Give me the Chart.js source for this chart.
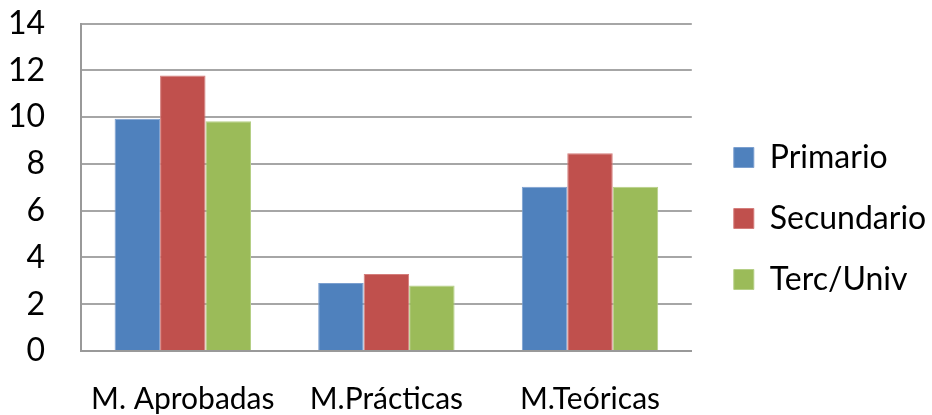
<!DOCTYPE html>
<html>
<head>
<meta charset="utf-8">
<script src="https://cdn.jsdelivr.net/npm/chart.js@4"></script>
<style>
  html, body { margin: 0; padding: 0; background: #fff; }
</style>
</head>
<body>
<canvas id="myChart" width="932" height="415"></canvas>
<script>
const categories = ['M. Aprobadas', 'M.Prácticas', 'M.Teóricas']
const primario = [9.93, 2.91, 7.02]
const secundario = [11.78, 3.29, 8.45]
const tercUniv = [9.82, 2.80, 7.02]
const yTicks = [0, 2, 4, 6, 8, 10, 12, 14]

const fontFam = "Lato, 'Open Sans', sans-serif"

// move the legend a bit, chart.js centres it on the full height
const legendNudge = {
  id: 'legendNudge',
  afterLayout(chart) {
    const lg = chart.legend
    lg.left += 13; lg.right += 13
    lg.top += 11; lg.bottom += 11
  }
}

const ctx = document.getElementById('myChart')

const myChart = new Chart(ctx, {
  type: 'bar',
  data: {
    labels: categories,
    datasets: [
      { label: 'Primario', data: primario, backgroundColor: '#4f81bd', borderColor: '#7b9fcf', borderWidth: 1 },
      { label: 'Secundario', data: secundario, backgroundColor: '#c0504d', borderColor: '#d47d7b', borderWidth: 1 },
      { label: 'Terc/Univ', data: tercUniv, backgroundColor: '#9bbb59', borderColor: '#b5cf86', borderWidth: 1 }
    ]
  },
  plugins: [legendNudge],
  options: {
    responsive: false,
    devicePixelRatio: 1,
    animation: false,
    layout: { padding: { top: 0, right: 9.6, bottom: 0, left: 0 } },
    datasets: { bar: { categoryPercentage: 0.67, barPercentage: 1.0 } },
    plugins: {
      tooltip: { enabled: false },
      legend: {
        position: 'right',
        labels: {
          boxWidth: 20,
          boxHeight: 20,
          padding: 29,
          color: '#000',
          font: { family: fontFam, size: 32 }
        }
      }
    },
    scales: {
      x: {
        afterFit: scale => { scale.height = 64 },
        grid: { display: false, drawTicks: false },
        border: { color: '#999', width: 2 },
        ticks: { color: '#000', padding: 30, maxRotation: 0, minRotation: 0, autoSkip: false, font: { family: fontFam, size: 30 } }
      },
      y: {
        min: 0,
        max: 14,
        afterFit: scale => {
          scale.width = 81
          scale.paddingTop = 23.5
          scale.paddingBottom = 0
        },
        afterBuildTicks: scale => { scale.ticks = yTicks.map(v => ({ value: v })) },
        grid: { color: '#a6a6a6', lineWidth: 2, drawTicks: false },
        border: { color: '#999', width: 2 },
        ticks: { color: '#000', padding: 36, autoSkip: false, font: { family: fontFam, size: 32 } }
      }
    }
  }
})
</script>
</body>
</html>
